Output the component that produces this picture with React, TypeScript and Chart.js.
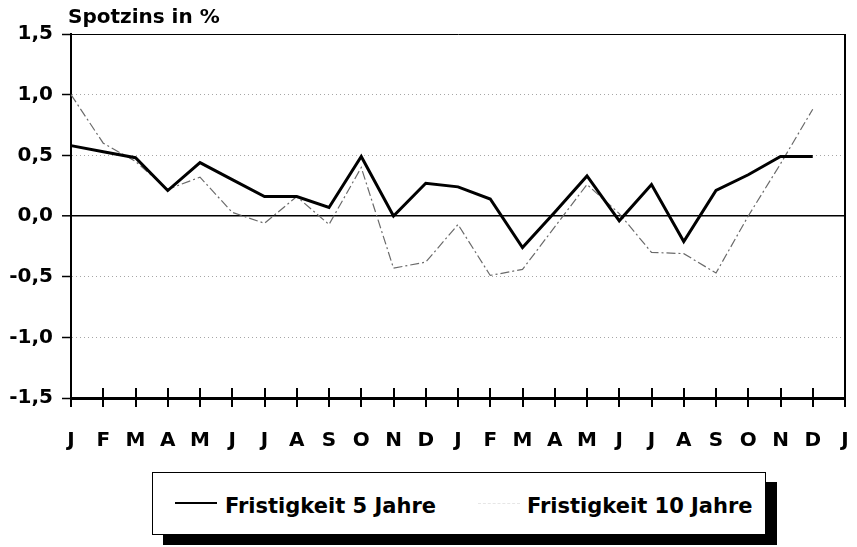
import React, { useEffect, useRef } from "react";
import { Chart, registerables } from "chart.js";

Chart.register(...registerables);

const months: string[] = [
  "J", "F", "M", "A", "M", "J", "J", "A", "S", "O", "N", "D",
  "J", "F", "M", "A", "M", "J", "J", "A", "S", "O", "N", "D", "J",
];

const fristigkeit5: number[] = [
  0.58, 0.53, 0.48, 0.21, 0.44, 0.3, 0.16, 0.16, 0.07, 0.49, 0.0, 0.27,
  0.24, 0.14, -0.26, 0.03, 0.33, -0.04, 0.26, -0.21, 0.21, 0.34, 0.49, 0.49,
];

const fristigkeit10: number[] = [
  1.0, 0.6, 0.45, 0.22, 0.32, 0.03, -0.06, 0.16, -0.07, 0.4, -0.43, -0.38,
  -0.07, -0.49, -0.44, -0.09, 0.26, 0.02, -0.3, -0.31, -0.47, 0.0, 0.43, 0.88,
];

const yTickValues: number[] = [-1.5, -1.0, -0.5, 0.0, 0.5, 1.0, 1.5];

const seriesLabels: string[] = ["Fristigkeit 5 Jahre", "Fristigkeit 10 Jahre"];

const FONT = "'DejaVu Sans', 'Liberation Sans', sans-serif";

const framePlugin = {
  id: "frame",
  afterDatasetsDraw(chart: any) {
    const { ctx, chartArea, scales } = chart;
    const xs = scales.x;
    ctx.save();
    ctx.strokeStyle = "#000";
    ctx.lineWidth = 2;
    ctx.setLineDash([]);
    for (let i = 0; i < months.length; i++) {
      const px = Math.round(xs.getPixelForValue(i));
      ctx.beginPath();
      ctx.moveTo(px, chartArea.bottom - 10);
      ctx.lineTo(px, chartArea.bottom + 9);
      ctx.stroke();
    }
    ctx.lineWidth = 2;
    ctx.beginPath();
    ctx.moveTo(chartArea.right, chartArea.top);
    ctx.lineTo(chartArea.right, chartArea.bottom);
    ctx.stroke();
    ctx.restore();
  },
};

export default function App() {
  const canvasRef = useRef<HTMLCanvasElement | null>(null);

  useEffect(() => {
    if (!canvasRef.current) return;
    const chart = new Chart(canvasRef.current, {
      type: "line",
      data: {
        labels: months,
        datasets: [
          {
            label: seriesLabels[0],
            data: fristigkeit5,
            borderColor: "#000",
            borderWidth: 3,
            pointRadius: 0,
            tension: 0,
            fill: false,
          },
          {
            label: seriesLabels[1],
            data: fristigkeit10,
            borderColor: "#6a6a6a",
            borderWidth: 1.2,
            borderDash: [9, 3, 2, 3],
            pointRadius: 0,
            tension: 0,
            fill: false,
          },
        ],
      },
      options: {
        animation: false,
        responsive: false,
        maintainAspectRatio: false,
        layout: { padding: { top: 34, right: 12, left: 0, bottom: 0 } },
        plugins: {
          legend: { display: false },
          title: { display: false },
          tooltip: { enabled: false },
        },
        scales: {
          x: {
            type: "category",
            offset: false,
            grid: { display: false },
            border: { display: true, color: "#000", width: 3 },
            ticks: {
              autoSkip: false,
              maxRotation: 0,
              padding: 23,
              color: "#000",
              font: { family: FONT, size: 20, weight: "bold" },
            },
            afterFit: (s: any) => {
              s.height = 62;
              s.paddingLeft = 0;
              s.paddingRight = 0;
            },
          },
          y: {
            min: -1.5,
            max: 1.5,
            afterBuildTicks: (s: any) => {
              s.ticks = yTickValues.map((v) => ({ value: v }));
            },
            afterFit: (s: any) => {
              s.width = 71;
            },
            border: {
              display: true,
              color: "#000",
              width: 2,
              dash: (c: any) =>
                c.tick && (c.tick.value === 0 || c.tick.value === 1.5) ? [] : [1, 3],
            },
            grid: {
              color: (c: any) =>
                c.tick && (c.tick.value === 0 || c.tick.value === 1.5)
                  ? "#000"
                  : "rgba(0,0,0,0.35)",
              lineWidth: (c: any) => (c.tick && c.tick.value === 0 ? 1.6 : 1),
              tickColor: "#000",
              tickLength: 9,
              tickWidth: 1.5,
              tickBorderDash: [],
            },
            ticks: {
              padding: 9,
              color: "#000",
              font: { family: FONT, size: 20, weight: "bold" },
              callback: (v: any) => Number(v).toFixed(1).replace(".", ","),
            },
          },
        },
      },
      plugins: [framePlugin],
    });
    return () => chart.destroy();
  }, []);

  const textStyle: React.CSSProperties = {
    position: "absolute",
    fontFamily: FONT,
    fontWeight: "bold",
    fontSize: 21,
    lineHeight: "21px",
    whiteSpace: "nowrap",
    color: "#000",
  };

  return (
    <div
      style={{
        position: "absolute",
        left: 0,
        top: 0,
        width: 857,
        height: 547,
        background: "#fff",
        overflow: "hidden",
      }}
    >
      <canvas
        ref={canvasRef}
        width={857}
        height={460}
        style={{ position: "absolute", left: 0, top: 0, width: 857, height: 460 }}
      />
      <div
        style={{
          ...textStyle,
          fontSize: 20,
          lineHeight: "20px",
          left: 68,
          top: 6,
        }}
      >
        Spotzins in %
      </div>
      <div
        style={{
          position: "absolute",
          left: 152,
          top: 472,
          width: 612,
          height: 61,
          border: "1px solid #000",
          background: "#fff",
          boxShadow: "11px 10px 0 0 #000",
        }}
      />
      <div
        style={{
          position: "absolute",
          left: 175,
          top: 502,
          width: 42,
          height: 2,
          background: "#000",
        }}
      />
      <div
        style={{
          position: "absolute",
          left: 478,
          top: 503,
          width: 42,
          height: 0,
          borderTop: "1px dashed #e6e6e6",
        }}
      />
      <div style={{ ...textStyle, left: 225, top: 496 }}>{seriesLabels[0]}</div>
      <div style={{ ...textStyle, left: 527, top: 496 }}>{seriesLabels[1]}</div>
    </div>
  );
}
